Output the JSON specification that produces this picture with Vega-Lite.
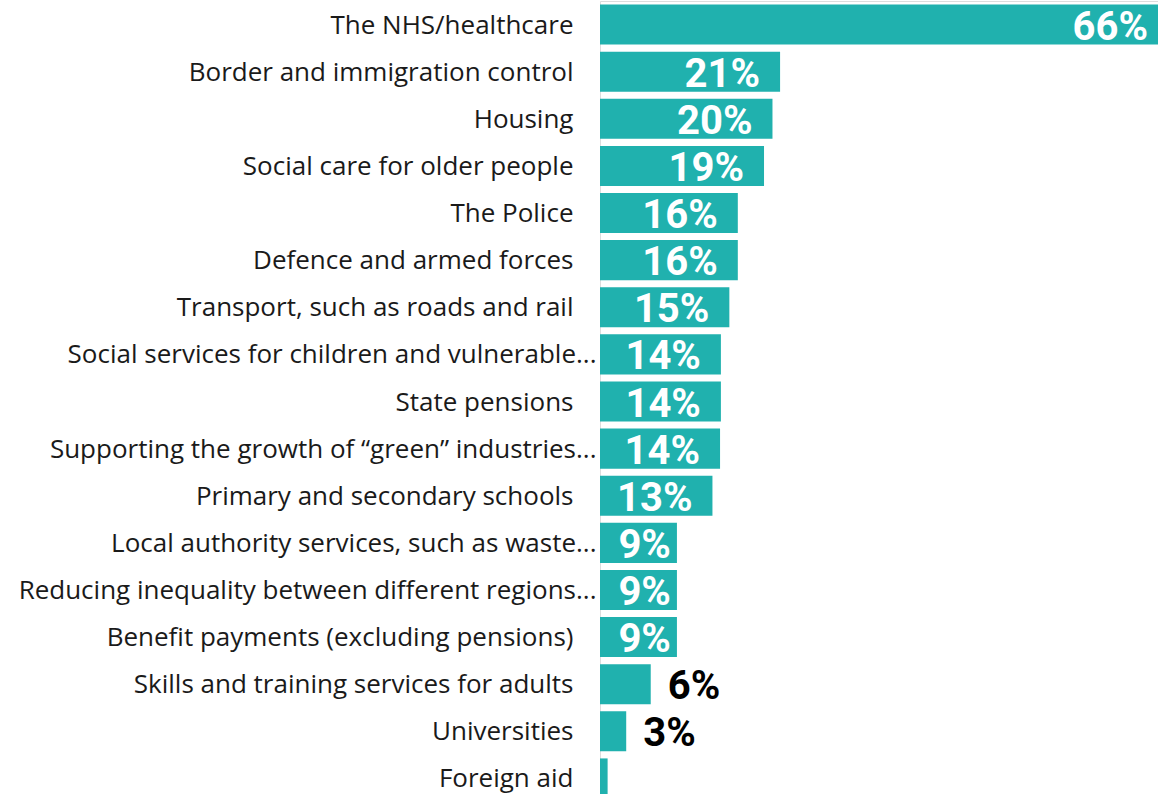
{
  "$schema": "https://vega.github.io/schema/vega-lite/v6.json",
  "autosize": {"type": "none"},
  "padding": {"left": 600, "top": 1, "right": 0, "bottom": 0},
  "width": 558,
  "height": 801,
  "background": "white",
  "data": {
    "values": [
      {"service": "The NHS/healthcare", "share": 0.66},
      {"service": "Border and immigration control", "share": 0.213},
      {"service": "Housing", "share": 0.204},
      {"service": "Social care for older people", "share": 0.194},
      {"service": "The Police", "share": 0.163},
      {"service": "Defence and armed forces", "share": 0.163},
      {"service": "Transport, such as roads and rail", "share": 0.153},
      {"service": "Social services for children and vulnerable...", "share": 0.143},
      {"service": "State pensions", "share": 0.143},
      {"service": "Supporting the growth of “green” industries...", "share": 0.142},
      {"service": "Primary and secondary schools", "share": 0.133},
      {"service": "Local authority services, such as waste...", "share": 0.091},
      {"service": "Reducing inequality between different regions...", "share": 0.091},
      {"service": "Benefit payments (excluding pensions)", "share": 0.091},
      {"service": "Skills and training services for adults", "share": 0.06},
      {"service": "Universities", "share": 0.031},
      {"service": "Foreign aid", "share": 0.009}
    ]
  },
  "encoding": {
    "y": {
      "field": "service",
      "type": "nominal",
      "sort": null,
      "scale": {"paddingInner": 0.15, "paddingOuter": 0.075},
      "axis": {
        "title": null,
        "ticks": false,
        "domain": false,
        "labelFont": "Open Sans",
        "labelFontSize": 26,
        "labelColor": "#1a1a1a",
        "labelLimit": 700,
        "labelOffset": 1,
        "labelPadding": {"condition": {"test": "indexof(datum.label, '...') >= 0", "value": 4}, "value": 27}
      }
    },
    "x": {
      "field": "share",
      "type": "quantitative",
      "scale": {"domain": [0, 0.66], "nice": false},
      "axis": null
    }
  },
  "layer": [
    {"mark": {"type": "bar", "color": "#20B1AE"}},
    {
      "transform": [{"filter": "datum.share >= 0.1 && datum.share < 0.5"}],
      "mark": {"type": "text", "align": "right", "baseline": "middle", "dx": -20, "dy": 3, "font": "Roboto", "fontWeight": "bold", "fontSize": 40, "color": "white"},
      "encoding": {"text": {"field": "share", "type": "quantitative", "format": ".0%"}}
    },
    {
      "transform": [{"filter": "datum.share >= 0.5"}],
      "mark": {"type": "text", "align": "right", "baseline": "middle", "dx": -10, "dy": 3, "font": "Roboto", "fontWeight": "bold", "fontSize": 40, "color": "white"},
      "encoding": {"text": {"field": "share", "type": "quantitative", "format": ".0%"}}
    },
    {
      "transform": [{"filter": "datum.share >= 0.08 && datum.share < 0.1"}],
      "mark": {"type": "text", "align": "right", "baseline": "middle", "dx": -6, "dy": 3, "font": "Roboto", "fontWeight": "bold", "fontSize": 40, "color": "white"},
      "encoding": {"text": {"field": "share", "type": "quantitative", "format": ".0%"}}
    },
    {
      "transform": [{"filter": "datum.share < 0.08 && datum.share >= 0.02"}],
      "mark": {"type": "text", "align": "left", "baseline": "middle", "dx": 17, "dy": 3, "font": "Roboto", "fontWeight": "bold", "fontSize": 40, "color": "black"},
      "encoding": {"text": {"field": "share", "type": "quantitative", "format": ".0%"}}
    }
  ]
}
